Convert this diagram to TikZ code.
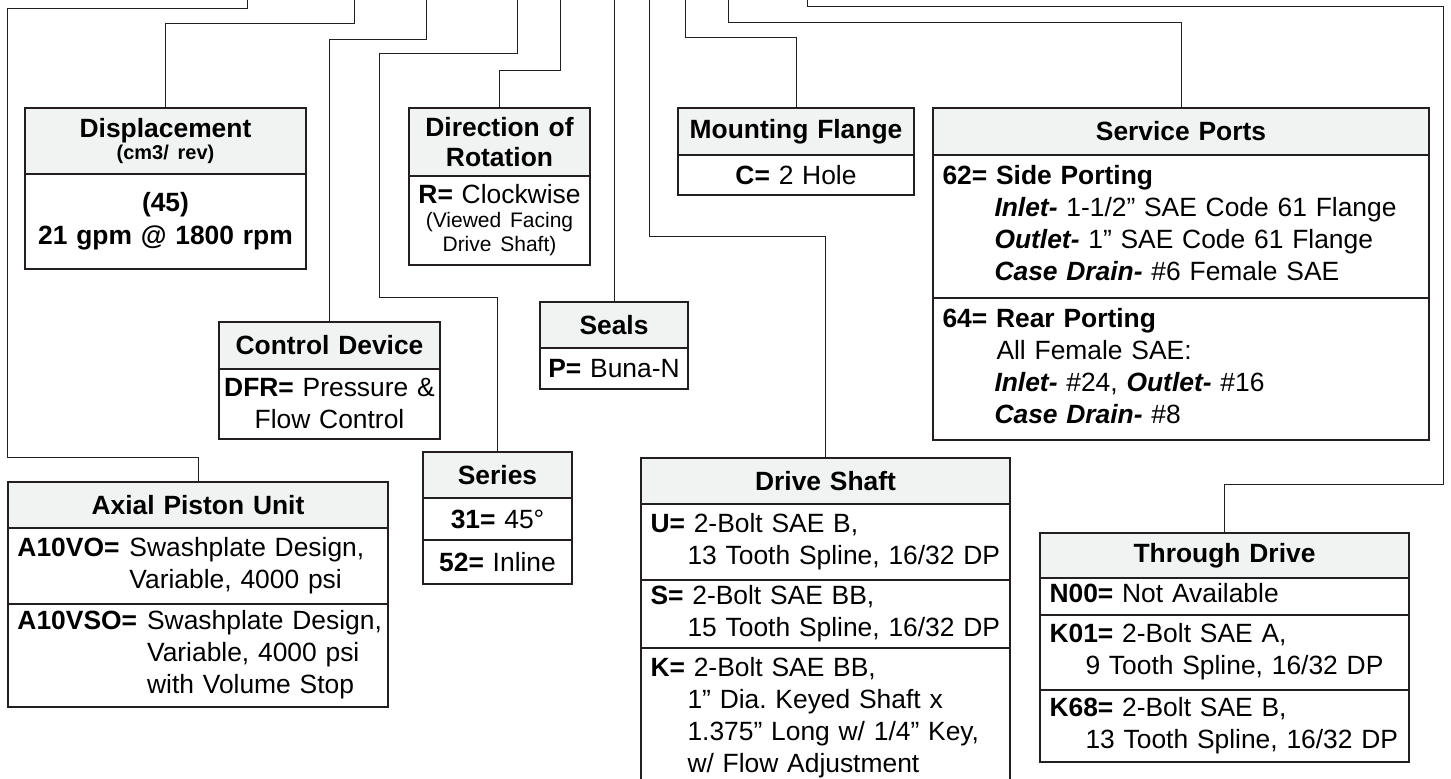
\documentclass[tikz,border=0pt]{standalone}
\usepackage{fontspec}
\setmainfont{Liberation Sans}
\frenchspacing
\definecolor{ink}{HTML}{231F20}
\definecolor{shade}{HTML}{F1F2F2}
\newcommand{\hdfont}{\fontsize{13.2}{15}\selectfont\bfseries}
\newcommand{\bdfont}{\fontsize{13.2}{16}\selectfont}
\newcommand{\lbl}[1]{\textbf{#1}}
\newcommand{\kw}[1]{\textbf{\textit{#1}}}
\newcommand{\rows}[1]{\begin{tabular}{@{}l@{}}#1\end{tabular}}

\begin{document}
\begin{tikzpicture}[
	x=0.5pt, y=-0.5pt,
	hd/.style = {draw=ink, fill=shade, line width=.5pt, anchor=north west, inner xsep=1pt, inner ysep=0pt, align=center, font=\hdfont},
	cc/.style = {draw=ink, line width=.5pt, anchor=north west, inner xsep=1pt, inner ysep=0pt, align=center, font=\bdfont},
	lc/.style = {cc, align=left, inner xsep=4.5pt},
	fr/.style = {draw=ink, line width=1pt},
	ld/.style = {draw=ink, line width=.5pt}
	]
	
	\useasboundingbox (0,0) rectangle (1451,779);
	\clip (0,0) rectangle (1451,779);
	
	% ===== ===== ===== ===== =====
	
	% Nodes
	\node[hd, text width=138pt, minimum height=32.5pt]	(dispH)	at	(25,108)	{Displacement\\[1pt]{\fontsize{10}{10}\selectfont (cm3/ rev)\par}};
	\node[cc, text width=138pt, minimum height=47pt, font=\bdfont\bfseries]	(dispB)	at	(dispH.south west)	{(45)\\[0.5pt]21 gpm @ 1800 rpm};
	
	\node[hd, text width=88pt, minimum height=33.5pt]	(dirH)	at	(409,108)	{Direction of\\Rotation};
	\node[cc, text width=88pt, minimum height=44pt]	(dirB)	at	(dirH.south west)	{\lbl{R=} Clockwise\\{\fontsize{10.5}{12}\selectfont (Viewed Facing\\Drive Shaft)\par}};
	
	\node[hd, text width=115.5pt, minimum height=23pt]	(mfH)	at	(678,108)	{Mounting Flange};
	\node[cc, text width=115.5pt, minimum height=19.5pt]	(mfB)	at	(mfH.south west)	{\lbl{C=} 2 Hole};
	
	\node[hd, text width=245.5pt, minimum height=23pt]	(spH)	at	(933,108)	{Service Ports};
	\node[lc, text width=238.5pt, minimum height=71pt]	(sp1)	at	(spH.south west)	{\rows{\textbf{62= Side Porting}\\
		\hspace*{26pt}\kw{Inlet-} 1-1/2” SAE Code 61 Flange\\
		\hspace*{26pt}\kw{Outlet-} 1” SAE Code 61 Flange\\
		\hspace*{26pt}\kw{Case Drain-} \#6 Female SAE}};
	\node[lc, text width=238.5pt, minimum height=70.5pt]	(sp2)	at	(sp1.south west)	{\rows{\textbf{64= Rear Porting}\\
		\hspace*{27pt}All Female SAE:\\
		\hspace*{26pt}\kw{Inlet-} \#24, \kw{Outlet-} \#16\\
		\hspace*{26pt}\kw{Case Drain-} \#8}};
	
	\node[hd, text width=108pt, minimum height=23pt]	(ctrlH)	at	(219,322)	{Control Device};
	\node[cc, text width=108pt, minimum height=34.5pt]	(ctrlB)	at	(ctrlH.south west)	{\lbl{DFR=} Pressure \&\\Flow Control};
	
	\node[hd, text width=71.5pt, minimum height=22.5pt]	(sealH)	at	(540,302)	{Seals};
	\node[cc, text width=71.5pt, minimum height=20pt]	(sealB)	at	(sealH.south west)	{\lbl{P=} Buna-N};
	
	\node[hd, text width=72pt, minimum height=22.5pt]	(serH)	at	(423,452)	{Series};
	\node[cc, text width=72pt, minimum height=20.5pt]	(ser1)	at	(serH.south west)	{\lbl{31=} 45°};
	\node[cc, text width=72pt, minimum height=21.5pt]	(ser2)	at	(ser1.south west)	{\lbl{52=} Inline};
	
	\node[hd, text width=187.5pt, minimum height=22.5pt]	(apuH)	at	(8,482)	{Axial Piston Unit};
	\node[lc, text width=180.5pt, minimum height=37.5pt]	(apu1)	at	(apuH.south west)	{\begin{tabular}{@{}l@{\hspace{5pt}}l@{}}\lbl{A10VO=} & Swashplate Design,\\ & Variable, 4000 psi\end{tabular}};
	\node[lc, text width=180.5pt, minimum height=51pt]	(apu2)	at	(apu1.south west)	{\begin{tabular}{@{}l@{\hspace{5pt}}l@{}}\lbl{A10VSO=} & Swashplate Design,\\ & Variable, 4000 psi\\ & with Volume Stop\end{tabular}};
	
	\node[hd, text width=182pt, minimum height=22.5pt]	(dsH)	at	(641,458)	{Drive Shaft};
	\node[lc, text width=175pt, minimum height=37.5pt]	(ds1)	at	(dsH.south west)	{\rows{\lbl{U=} 2-Bolt SAE B,\\\hspace*{18.5pt}13 Tooth Spline, 16/32 DP}};
	\node[lc, text width=175pt, minimum height=33.5pt]	(ds2)	at	(ds1.south west)	{\rows{\lbl{S=} 2-Bolt SAE BB,\\\hspace*{18.5pt}15 Tooth Spline, 16/32 DP}};
	\node[lc, text width=175pt, minimum height=69.5pt]	(ds3)	at	(ds2.south west)	{\rows{\lbl{K=} 2-Bolt SAE BB,\\
		\hspace*{18.5pt}1” Dia. Keyed Shaft x\\
		\hspace*{18.5pt}1.375” Long w/ 1/4” Key,\\
		\hspace*{18.5pt}w/ Flow Adjustment}};
	
	\node[hd, text width=182pt, minimum height=22pt]	(tdH)	at	(1040,533)	{Through Drive};
	\node[lc, text width=175pt, minimum height=18pt]	(td1)	at	(tdH.south west)	{\rows{\lbl{N00=} Not Available}};
	\node[lc, text width=175pt, minimum height=37pt]	(td2)	at	(td1.south west)	{\rows{\lbl{K01=} 2-Bolt SAE A,\\\hspace*{18pt}9 Tooth Spline, 16/32 DP}};
	\node[lc, text width=175pt, minimum height=35.5pt]	(td3)	at	(td2.south west)	{\rows{\lbl{K68=} 2-Bolt SAE B,\\\hspace*{18pt}13 Tooth Spline, 16/32 DP}};
	
	% Frames
	\draw[fr]	(dispH.north west)	rectangle	(dispB.south east);
	\draw[fr]	(dispH.south west)	--	(dispH.south east);
	\draw[fr]	(dirH.north west)	rectangle	(dirB.south east);
	\draw[fr]	(dirH.south west)	--	(dirH.south east);
	\draw[fr]	(mfH.north west)	rectangle	(mfB.south east);
	\draw[fr]	(mfH.south west)	--	(mfH.south east);
	\draw[fr]	(spH.north west)	rectangle	(sp2.south east);
	\draw[fr]	(spH.south west)	--	(spH.south east);
	\draw[fr]	(ctrlH.north west)	rectangle	(ctrlB.south east);
	\draw[fr]	(ctrlH.south west)	--	(ctrlH.south east);
	\draw[fr]	(sealH.north west)	rectangle	(sealB.south east);
	\draw[fr]	(sealH.south west)	--	(sealH.south east);
	\draw[fr]	(serH.north west)	rectangle	(ser2.south east);
	\draw[fr]	(serH.south west)	--	(serH.south east);
	\draw[fr]	(apuH.north west)	rectangle	(apu2.south east);
	\draw[fr]	(apuH.south west)	--	(apuH.south east);
	\draw[fr]	(dsH.north west)	rectangle	(ds3.south east);
	\draw[fr]	(dsH.south west)	--	(dsH.south east);
	\draw[fr]	(tdH.north west)	rectangle	(td3.south east);
	\draw[fr]	(tdH.south west)	--	(tdH.south east);
	
	% ===== ===== ===== ===== =====
	
	% Lines
	\coordinate	(apuT)	at	(247,0);
	\coordinate	(dispT)	at	(354,0);
	\coordinate	(ctrlT)	at	(426,0);
	\coordinate	(serT)	at	(517,0);
	\coordinate	(dirT)	at	(560,0);
	\coordinate	(sealT)	at	(613,0);
	\coordinate	(dsT)	at	(649,0);
	\coordinate	(mfT)	at	(685,0);
	\coordinate	(spT)	at	(728,0);
	\coordinate	(tdT)	at	(807,0);
	
	\draw[ld]	(apuT)	--	++(0,9)	-|	(7,458)	-|	(apuH.north);
	\draw[ld]	(dispT)	--	++(0,24)	-|	(dispH.north);
	\draw[ld]	(ctrlT)	--	++(0,40)	-|	(ctrlH.north);
	\draw[ld]	(serT)	--	++(0,54)	-|	(379,298)	-|	(serH.north);
	\draw[ld]	(dirT)	--	++(0,71)	-|	(dirH.north);
	\draw[ld]	(sealH.north)	--	(sealH.north |- sealT);
	\draw[ld]	(dsT)	--	++(0,237)	-|	(dsH.north);
	\draw[ld]	(mfT)	--	++(0,38)	-|	(mfH.north);
	\draw[ld]	(spT)	--	++(0,23)	-|	(spH.north);
	\draw[ld]	(tdT)	--	++(0,7)	-|	(1443,485)	-|	(tdH.north);
	
\end{tikzpicture}
\end{document}
